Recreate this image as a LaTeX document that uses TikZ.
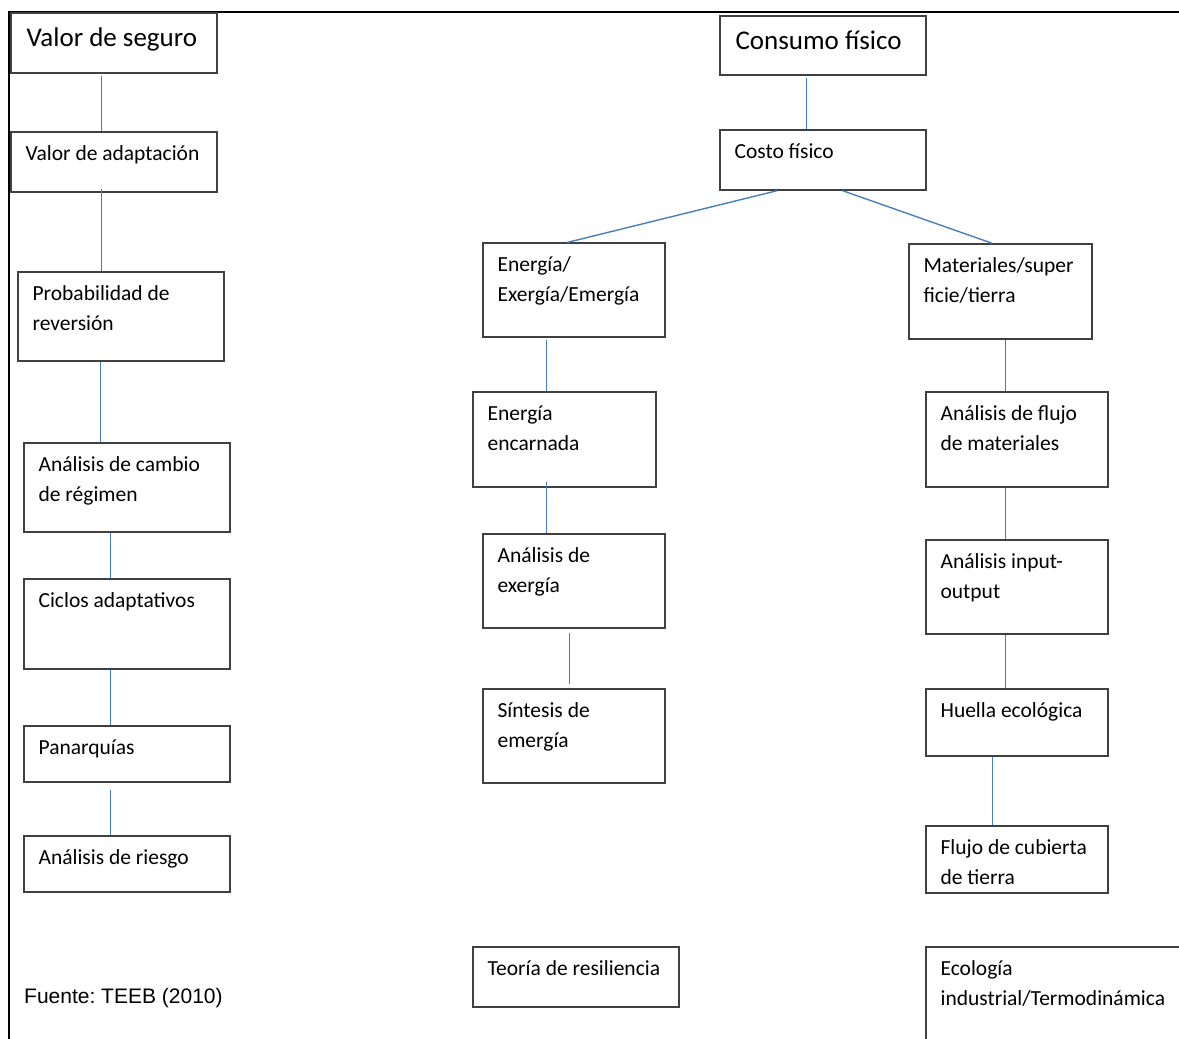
\documentclass[tikz,border=0pt]{standalone}
\usepackage{fontspec}
\setmainfont{Carlito}
\newfontfamily\arialfont{Liberation Sans}
\frenchspacing
\usetikzlibrary{calc,fit}
\definecolor{conector}{HTML}{4A7EBB}
\definecolor{borde}{HTML}{404040}
\tikzset{
  caja/.style={draw=borde, line width=1.2pt, inner sep=0pt, rectangle},
  rotulo/.style={anchor=base west, inner sep=0pt,
    font=\fontsize{21.5}{30}\selectfont, xshift=15pt, yshift=-29pt},
  rotulogrande/.style={anchor=base west, inner sep=0pt,
    font=\fontsize{27}{32}\selectfont, xshift=16pt, yshift=-34pt},
  enlace/.style={draw=conector, line width=1.4pt},
  marco/.style={draw=black, line width=2pt}
}
% box: name, x1, y1, x2, y2, text style, text (lines split by \\, baseline on the first line)
\newcommand\cajatexto[7]{%
  \node[caja, fit={(#2,#3) (#4,#5)}] (#1) {};
  \node[#6] (#1-t) at (#1.north west)
    {\begin{tabular}[t]{@{}l@{}}#7\end{tabular}};
}
\begin{document}
\begin{tikzpicture}[x=1pt, y=-1pt]
\useasboundingbox (0,0) rectangle (1179,1039);
\clip (0,0) rectangle (1179,1039);

% outer frame
\draw[marco] (9,1050) -- (9,12) -- (1190,12);

% left column
\cajatexto{vs}{11}{13}{217}{73}{rotulogrande}{Valor de seguro}
\cajatexto{va}{11}{132}{217}{192}{rotulo}{Valor de adaptación}
\cajatexto{pr}{18}{272}{224}{361}{rotulo}{Probabilidad de\\reversión}
\cajatexto{ac}{24}{443}{230}{532}{rotulo}{Análisis de cambio\\de régimen}
\cajatexto{ci}{24}{579}{230}{669}{rotulo}{Ciclos adaptativos}
\cajatexto{pa}{24}{726}{230}{782}{rotulo}{Panarquías}
\cajatexto{ar}{24}{836}{230}{892}{rotulo}{Análisis de riesgo}

% top of the right part
\cajatexto{cf}{720}{16}{926}{75}{rotulogrande}{Consumo físico}
\cajatexto{co}{720}{130}{926}{190}{rotulo}{Costo físico}

% energy branch
\cajatexto{en}{483}{243}{665}{337}{rotulo}{Energía/\\Exergía/Emergía}
\cajatexto{ee}{473}{392}{656}{487}{rotulo}{Energía\\encarnada}
\cajatexto{ax}{483}{534}{665}{628}{rotulo}{Análisis de\\exergía}
\cajatexto{se}{483}{689}{665}{783}{rotulo}{Síntesis de\\emergía}
\cajatexto{tr}{473}{947}{679}{1007}{rotulo}{Teoría de resiliencia}

% materials branch
\cajatexto{ma}{909}{244}{1092}{339}{rotulo}{Materiales/super\\ficie/tierra}
\cajatexto{af}{926}{392}{1108}{487}{rotulo}{Análisis de flujo\\de materiales}
\cajatexto{io}{926}{540}{1108}{634}{rotulo}{Análisis input-\\output}
\cajatexto{he}{926}{689}{1108}{756}{rotulo}{Huella ecológica}
\cajatexto{fc}{926}{826}{1108}{893}{rotulo}{Flujo de cubierta\\de tierra}
\cajatexto{ei}{926}{947}{1220}{1080}{rotulo}{Ecología\\industrial/Termodinámica}

% source
\node[anchor=base west, inner sep=0pt, font=\arialfont\fontsize{21}{25}\selectfont]
  (fuente) at (24,1003) {Fuente: TEEB (2010)};

% connectors, left column
\draw[enlace] ($(vs.south west)+(91,2)$) -- ($(va.north west)+(91,0)$);
\draw[enlace] ($(va.south west)+(91,-4)$) -- ($(pr.north west)+(84,0)$);
\draw[enlace] ($(pr.south west)+(83,0)$) -- ($(ac.north west)+(77,0)$);
\draw[enlace] ($(ac.south west)+(87,0)$) -- ($(ci.north west)+(87,0)$);
\draw[enlace] ($(ci.south west)+(87,0)$) -- ($(pa.north west)+(87,0)$);
\draw[enlace] ($(pa.south west)+(87,7)$) -- ($(ar.north west)+(87,0)$);

% connectors, right part
\draw[enlace] ($(cf.south west)+(87,2)$) -- ($(co.north west)+(87,0)$);
\draw[enlace] ($(co.south west)+(58,0)$) -- ($(en.north west)+(85,0)$);
\draw[enlace] ($(co.south west)+(123,0)$) -- ($(ma.north west)+(84,0)$);
\draw[enlace] ($(en.south west)+(64,2)$) -- ($(ee.north west)+(74,0)$);
\draw[enlace] ($(ee.south west)+(74,-6)$) -- ($(ax.north west)+(64,0)$);
\draw[enlace] ($(ax.south west)+(87,4)$) -- ($(se.north west)+(87,-4)$);
\draw[enlace] ($(ma.south west)+(97,0)$) -- ($(af.north west)+(80,0)$);
\draw[enlace] ($(af.south west)+(80,0)$) -- ($(io.north west)+(80,0)$);
\draw[enlace] ($(io.south west)+(80,0)$) -- ($(he.north west)+(80,0)$);
\draw[enlace] ($(he.south west)+(67,0)$) -- ($(fc.north west)+(67,0)$);
\end{tikzpicture}
\end{document}
